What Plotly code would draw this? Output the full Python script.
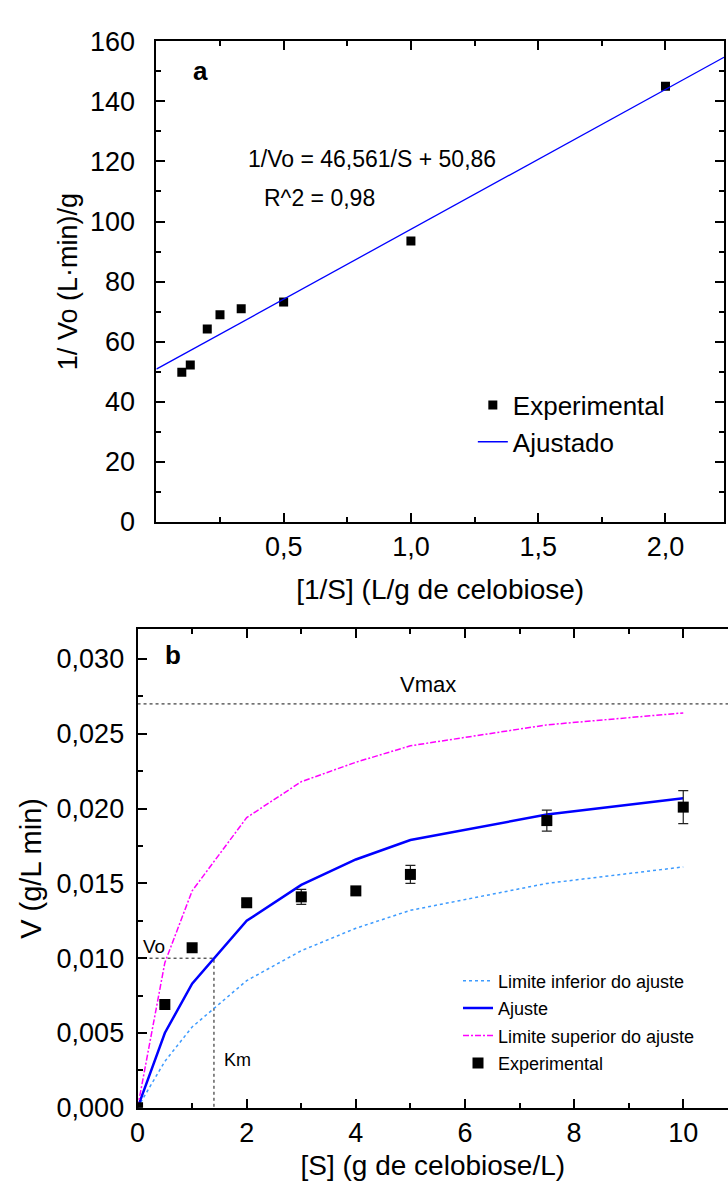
import plotly.graph_objects as go

# ---------- Panel a: Lineweaver-Burk ----------
inv_s = [0.1, 0.1333, 0.2, 0.25, 0.3333, 0.5, 1.0, 2.0]
inv_v = [49.8, 52.2, 64.2, 69.0, 71.0, 73.2, 93.5, 145.0]
slope_a = 46.561
intercept_a = 50.86
xrange_a = [0, 2.23]
fit_x = xrange_a
fit_y = [slope_a * x + intercept_a for x in fit_x]

# ---------- Panel b: Michaelis-Menten ----------
s_exp = [0, 0.5, 1, 2, 3, 4, 5, 7.5, 10]
v_exp = [0.0, 0.0069, 0.0107, 0.0137, 0.0141, 0.0145, 0.0156, 0.0192, 0.0201]
v_err = [0.0, 0.0002, 0.0002, 0.0002, 0.0005, 0.0002, 0.0006, 0.0007, 0.0011]

s_fit = [0, 0.5, 1, 2, 3, 4, 5, 7.5, 10]
v_fit = [0.0, 0.0050, 0.0083, 0.0125, 0.0149, 0.0166, 0.0179, 0.0196, 0.0207]
v_low = [0.0, 0.0031, 0.0054, 0.0085, 0.0105, 0.0120, 0.0132, 0.0150, 0.0161]
v_up = [0.0, 0.0097, 0.0145, 0.0194, 0.0218, 0.0231, 0.0242, 0.0256, 0.0264]

vmax = 0.027
km = 1.4
vo = 0.010
xrange_b = [0, 10.82]
yrange_b = [0, 0.032]

W, H = 728, 1191
FONT = "Liberation Sans, Arial, sans-serif"

def px_x(a, b):
    return [a / W, b / W]

def px_y(top, bottom):
    return [1 - bottom / H, 1 - top / H]

fig = go.Figure()

# panel a traces
fig.add_trace(go.Scatter(x=inv_s, y=inv_v, mode="markers", name="Experimental",
                         marker=dict(symbol="square", size=9, color="black"),
                         xaxis="x", yaxis="y", legend="legend"))
fig.add_trace(go.Scatter(x=fit_x, y=fit_y, mode="lines", name="Ajustado",
                         line=dict(color="#0000FF", width=1.3),
                         xaxis="x", yaxis="y", legend="legend"))

# panel b traces
fig.add_trace(go.Scatter(x=[xrange_b[0], xrange_b[1]], y=[vmax, vmax], mode="lines",
                         line=dict(color="#111111", width=1, dash="3px,3px"),
                         showlegend=False, xaxis="x2", yaxis="y2"))
fig.add_trace(go.Scatter(x=[0, km, km], y=[vo, vo, 0], mode="lines",
                         line=dict(color="#111111", width=1, dash="3px,3px"),
                         showlegend=False, xaxis="x2", yaxis="y2"))
fig.add_trace(go.Scatter(x=s_fit, y=v_low, mode="lines", name="Limite inferior do ajuste",
                         line=dict(color="#3D9BFF", width=1.5, dash="dot"),
                         xaxis="x2", yaxis="y2", legend="legend2", legendgroup="g1"))
fig.add_trace(go.Scatter(x=s_fit, y=v_fit, mode="lines", name="Ajuste",
                         line=dict(color="#0000FF", width=2.5),
                         xaxis="x2", yaxis="y2", legend="legend2", legendgroup="g2"))
fig.add_trace(go.Scatter(x=s_fit, y=v_up, mode="lines", name="Limite superior do ajuste",
                         line=dict(color="#FF00FF", width=1.5, dash="6px,2px,2px,2px"),
                         xaxis="x2", yaxis="y2", legend="legend2", legendgroup="g3"))
fig.add_trace(go.Scatter(x=s_exp, y=v_exp, mode="markers", name="Experimental",
                         marker=dict(symbol="square", size=11, color="black"),
                         error_y=dict(type="data", array=v_err, visible=True,
                                      color="#222222", thickness=1.2, width=5),
                         xaxis="x2", yaxis="y2", legend="legend2", legendgroup="g4"))

axis_common = dict(showgrid=False, zeroline=False, showline=True, linecolor="black",
                   linewidth=2, ticks="inside", tickcolor="black", tickwidth=1.5,
                   ticklen=9, tickfont=dict(family=FONT, size=27, color="black"))

fig.update_layout(
    width=W, height=H, margin=dict(l=0, r=0, t=0, b=0),
    paper_bgcolor="white", plot_bgcolor="white",
    separators=",.",
    font=dict(family=FONT, color="black"),
    xaxis=dict(**axis_common, domain=px_x(150, 724), range=xrange_a, anchor="y",
               mirror="ticks", tickvals=[0.5, 1.0, 1.5, 2.0], tickformat=".1f",
               minor=dict(dtick=0.25, tick0=0, ticklen=5, ticks="inside", tickcolor="black", tickwidth=1.5),
               title=dict(text="[1/S] (L/g de celobiose)", font=dict(size=28), standoff=18)),
    yaxis=dict(**axis_common, domain=px_y(27, 520), range=[0, 160], anchor="x",
               mirror="ticks", dtick=20, tick0=0, ticklabelstandoff=14,
               minor=dict(dtick=10, tick0=0, ticklen=5, ticks="inside", tickcolor="black", tickwidth=1.5),
               title=dict(text="1/ Vo (L·min)/g", font=dict(size=27), standoff=4)),
    xaxis2=dict(**axis_common, domain=px_x(131, 728), range=xrange_b, anchor="y2",
                mirror="ticks", dtick=2, tick0=0,
                minor=dict(dtick=1, tick0=0, ticklen=5, ticks="inside", tickcolor="black", tickwidth=1.5),
                title=dict(text="[S] (g de celobiose/L)", font=dict(size=28), standoff=8)),
    yaxis2=dict(**axis_common, domain=px_y(630, 1121), range=yrange_b, anchor="x2",
                mirror=False, dtick=0.005, tick0=0, tickformat=".3f", ticklabelstandoff=6,
                minor=dict(dtick=0.0025, tick0=0, ticklen=5, ticks="inside", tickcolor="black", tickwidth=1.5),
                title=dict(text="V (g/L min)", font=dict(size=29), standoff=6)),
    legend=dict(x=470 / W, y=1 - 376 / H, xanchor="left", yanchor="top",
                bgcolor="rgba(0,0,0,0)", font=dict(family=FONT, size=26, color="black"),
                itemwidth=30),
    legend2=dict(x=455 / W, y=1 - 972 / H, xanchor="left", yanchor="top",
                 bgcolor="rgba(0,0,0,0)", font=dict(family=FONT, size=18, color="black"),
                 traceorder="grouped", tracegroupgap=1, itemwidth=30),
    annotations=[
        dict(x=0.175, y=150, xref="x", yref="y", text="<b>a</b>", showarrow=False,
             font=dict(size=26, color="black")),
        dict(x=0.847, y=120.8, xref="x", yref="y", text="1/Vo = 46,561/S + 50,86", showarrow=False,
             font=dict(size=23, color="black")),
        dict(x=0.64, y=108, xref="x", yref="y", text="R^2 = 0,98", showarrow=False,
             font=dict(size=23, color="black")),
        dict(x=0.65, y=0.0303, xref="x2", yref="y2", text="<b>b</b>", showarrow=False,
             font=dict(size=26, color="black")),
        dict(x=5.33, y=0.0283, xref="x2", yref="y2", text="Vmax", showarrow=False,
             font=dict(size=22, color="black")),
        dict(x=0.3, y=0.0108, xref="x2", yref="y2", text="Vo", showarrow=False,
             font=dict(size=19, color="black")),
        dict(x=1.55, y=0.0032, xref="x2", yref="y2", text="Km", showarrow=False, xanchor="left",
             font=dict(size=18, color="black")),
    ],
)

fig.write_html("out.html")
